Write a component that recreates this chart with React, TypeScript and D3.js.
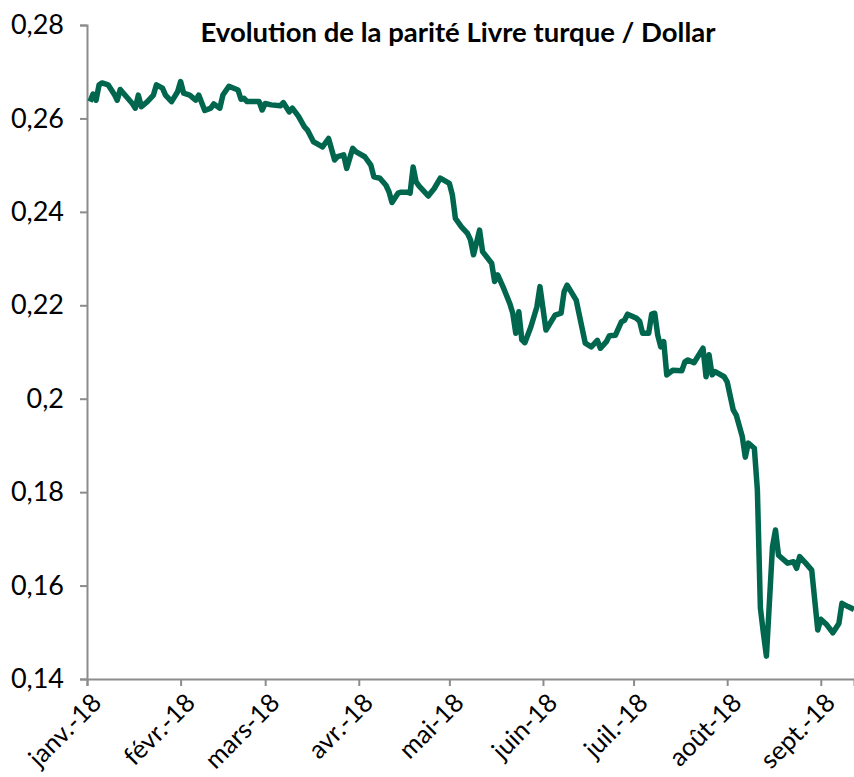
import {useEffect, useRef} from "react";
import * as d3 from "d3";

const SvgWidth = 854;
const SvgHeight = 777;

const chartTitle = "Evolution de la parité Livre turque / Dollar";

// daily fixings
const dates = [
    "2018-01-02", "2018-01-03", "2018-01-04", "2018-01-05", "2018-01-06", "2018-01-08", "2018-01-10", "2018-01-11",
    "2018-01-12", "2018-01-14", "2018-01-16", "2018-01-17", "2018-01-18", "2018-01-19", "2018-01-21", "2018-01-23",
    "2018-01-24", "2018-01-26", "2018-01-27", "2018-01-29", "2018-01-31", "2018-02-01", "2018-02-02", "2018-02-04",
    "2018-02-06", "2018-02-07", "2018-02-09", "2018-02-11", "2018-02-12", "2018-02-14", "2018-02-15", "2018-02-17",
    "2018-02-20", "2018-02-21", "2018-02-22", "2018-02-23", "2018-02-27", "2018-02-28", "2018-03-01", "2018-03-03",
    "2018-03-06", "2018-03-07", "2018-03-08", "2018-03-09", "2018-03-10", "2018-03-12", "2018-03-14", "2018-03-15",
    "2018-03-17", "2018-03-19", "2018-03-20", "2018-03-22", "2018-03-24", "2018-03-25", "2018-03-27", "2018-03-28",
    "2018-03-30", "2018-03-31", "2018-04-03", "2018-04-05", "2018-04-06", "2018-04-08", "2018-04-10", "2018-04-11",
    "2018-04-12", "2018-04-14", "2018-04-15", "2018-04-17", "2018-04-18", "2018-04-19", "2018-04-20", "2018-04-21",
    "2018-04-24", "2018-04-26", "2018-04-28", "2018-05-01", "2018-05-02", "2018-05-03", "2018-05-05", "2018-05-07",
    "2018-05-08", "2018-05-09", "2018-05-11", "2018-05-12", "2018-05-15", "2018-05-16", "2018-05-17", "2018-05-19",
    "2018-05-21", "2018-05-22", "2018-05-23", "2018-05-24", "2018-05-25", "2018-05-26", "2018-05-28", "2018-05-30",
    "2018-05-31", "2018-06-02", "2018-06-05", "2018-06-07", "2018-06-08", "2018-06-09", "2018-06-12", "2018-06-15",
    "2018-06-17", "2018-06-19", "2018-06-20", "2018-06-22", "2018-06-23", "2018-06-25", "2018-06-27", "2018-06-28",
    "2018-06-29", "2018-07-02", "2018-07-03", "2018-07-04", "2018-07-06", "2018-07-07", "2018-07-08", "2018-07-09",
    "2018-07-10", "2018-07-11", "2018-07-12", "2018-07-14", "2018-07-17", "2018-07-18", "2018-07-19", "2018-07-21",
    "2018-07-24", "2018-07-25", "2018-07-26", "2018-07-27", "2018-07-28", "2018-07-31", "2018-08-01", "2018-08-03",
    "2018-08-04", "2018-08-06", "2018-08-07", "2018-08-08", "2018-08-10", "2018-08-11", "2018-08-12", "2018-08-13",
    "2018-08-14", "2018-08-16", "2018-08-17", "2018-08-18", "2018-08-21", "2018-08-23", "2018-08-24", "2018-08-25",
    "2018-08-27", "2018-08-29", "2018-08-31", "2018-09-01", "2018-09-03", "2018-09-05", "2018-09-07", "2018-09-08",
    "2018-09-10", "2018-09-12"
];

const tryUsd = [
    0.2636, 0.2652, 0.2639, 0.2672, 0.2676, 0.2672, 0.2652, 0.2639,
    0.2662, 0.2647, 0.2632, 0.2622, 0.2650, 0.2625, 0.2636, 0.2650,
    0.2672, 0.2665, 0.2650, 0.2636, 0.2657, 0.2679, 0.2654, 0.2650,
    0.2639, 0.2650, 0.2617, 0.2622, 0.2631, 0.2622, 0.2650, 0.2669,
    0.2661, 0.2641, 0.2643, 0.2636, 0.2636, 0.2618, 0.2632, 0.2629,
    0.2627, 0.2634, 0.2624, 0.2614, 0.2622, 0.2605, 0.2582, 0.2575,
    0.2550, 0.2543, 0.2539, 0.2557, 0.2511, 0.2518, 0.2522, 0.2493,
    0.2536, 0.2529, 0.2518, 0.2500, 0.2475, 0.2472, 0.2457, 0.2443,
    0.2420, 0.2440, 0.2442, 0.2442, 0.2440, 0.2496, 0.2464, 0.2455,
    0.2434, 0.2450, 0.2472, 0.2461, 0.2436, 0.2386, 0.2368, 0.2354,
    0.2340, 0.2308, 0.2361, 0.2315, 0.2290, 0.2251, 0.2265, 0.2236,
    0.2204, 0.2183, 0.2140, 0.2186, 0.2126, 0.2120, 0.2154, 0.2197,
    0.2240, 0.2147, 0.2179, 0.2183, 0.2229, 0.2243, 0.2211, 0.2119,
    0.2111, 0.2125, 0.2108, 0.2122, 0.2135, 0.2136, 0.2165, 0.2168,
    0.2181, 0.2172, 0.2166, 0.2140, 0.2140, 0.2181, 0.2183, 0.2136,
    0.2111, 0.2122, 0.2051, 0.2061, 0.2060, 0.2079, 0.2083, 0.2077,
    0.2108, 0.2047, 0.2094, 0.2051, 0.2058, 0.2047, 0.2036, 0.1976,
    0.1965, 0.1919, 0.1875, 0.1905, 0.1894, 0.1805, 0.1552, 0.1498,
    0.1449, 0.1683, 0.1719, 0.1665, 0.1648, 0.1651, 0.1637, 0.1662,
    0.1648, 0.1633, 0.1505, 0.1528, 0.1516, 0.1499, 0.1519, 0.1562,
    0.1555, 0.1549
];

const monthTicks = ["2018-01-01", "2018-02-01", "2018-03-01", "2018-04-01", "2018-05-01", "2018-06-01", "2018-07-01", "2018-08-01", "2018-09-01"];
const monthLabels = ["janv.-18", "févr.-18", "mars-18", "avr.-18", "mai-18", "juin-18", "juil.-18", "août-18", "sept.-18"];
const yTicks = [0.14, 0.16, 0.18, 0.2, 0.22, 0.24, 0.26, 0.28];

const lineColor = "#00664e";
const axisColor = "#8c8c8c";
const fontFamily = "Lato, 'Open Sans', sans-serif";

const parseDate = d3.timeParse("%Y-%m-%d");

function App(){
    const xAxisRef = useRef(null);
    const yAxisRef = useRef(null);
    const pathRef = useRef(null);

    let marginLeft = 87;
    let marginTop = 25;
    let contentWidth = 767;
    let contentHeight = 654;

    const data = dates.map((d, i) => ({date: parseDate(d), value: tryUsd[i]}));

    const xScale = d3.scaleTime()
        .domain([parseDate("2018-01-01"), parseDate("2018-09-12")])
        .range([0, contentWidth]);

    const yScale = d3.scaleLinear()
        .domain([0.14, 0.28])
        .range([contentHeight, 0]);

    useEffect(() => {
        let xAxisElm = d3.select(xAxisRef.current);
        let yAxisElm = d3.select(yAxisRef.current);
        let pathElm = d3.select(pathRef.current);

        xAxisElm.call(
            d3.axisBottom(xScale)
                .tickValues(monthTicks.map(parseDate))
                .tickFormat((d, i) => monthLabels[i])
                .tickSizeOuter(0)
                .tickSize(7)
        );
        xAxisElm.select(".domain").attr("stroke", axisColor).attr("stroke-width", 2);
        xAxisElm.selectAll(".tick line").attr("stroke", axisColor).attr("stroke-width", 2);
        xAxisElm.selectAll(".tick text")
            .attr("font-family", fontFamily)
            .attr("font-size", 25.5)
            .attr("fill", "#000")
            .attr("text-anchor", "end")
            .attr("transform", "rotate(-45)")
            .attr("x", -7)
            .attr("y", 20)
            .attr("dy", "0.35em");

        yAxisElm.call(
            d3.axisLeft(yScale)
                .tickValues(yTicks)
                .tickFormat(d => String(+(+d).toFixed(2)).replace(".", ","))
                .tickSizeOuter(0)
                .tickSize(7)
                .tickPadding(16)
        );
        yAxisElm.select(".domain").attr("stroke", axisColor).attr("stroke-width", 2);
        yAxisElm.selectAll(".tick line").attr("stroke", axisColor).attr("stroke-width", 2);
        yAxisElm.selectAll(".tick text")
            .attr("font-family", fontFamily)
            .attr("font-size", 27)
            .attr("fill", "#000");

        pathElm.datum(data)
            .attr("fill", "none")
            .attr("stroke", lineColor)
            .attr("stroke-width", 5.5)
            .attr("stroke-linejoin", "round")
            // @ts-ignore
            .attr("d", d3.line()
                // @ts-ignore
                .x(d => xScale(d.date))
                // @ts-ignore
                .y(d => yScale(d.value))
            );
    }, []);

    return (
        <svg width={SvgWidth} height={SvgHeight} style={{position: "absolute", left: 0, top: 0, background: "#fff"}}>
            <text
                x={458}
                y={42}
                textAnchor="middle"
                fontFamily={fontFamily}
                fontWeight="bold"
                fontSize={27.5}
            >
                {chartTitle}
            </text>
            <g transform={`translate(${marginLeft}, ${marginTop})`}>
                <g ref={xAxisRef} transform={`translate(0,${contentHeight})`}></g>
                <g ref={yAxisRef}></g>
                <path ref={pathRef}></path>
            </g>
        </svg>
    );
}

export default App;
